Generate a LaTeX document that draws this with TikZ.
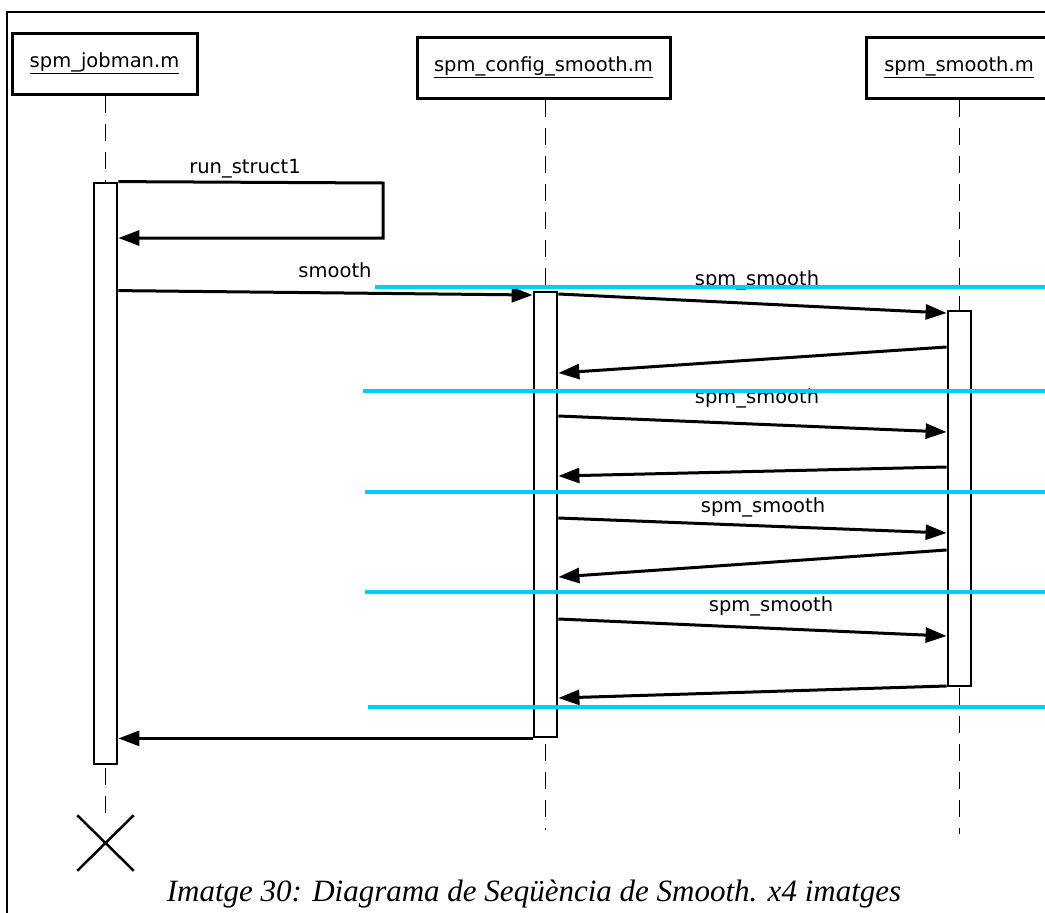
\documentclass[tikz,border=0pt]{standalone}
\usepackage{fontspec}
\setmainfont{DejaVu Sans}
\newfontfamily\captionserif{Liberation Serif}
\usetikzlibrary{arrows.meta, shapes.misc}
\definecolor{markcyan}{RGB}{0,204,255}

\begin{document}
\begin{tikzpicture}[x=1pt, y=-1pt,
    objbox/.style = {draw, line width=3pt, minimum height=61pt, inner sep=0pt,
      font=\fontsize{19.5}{22}\selectfont},
    actbar/.style = {draw, fill=white, line width=2.8pt, minimum width=23pt, inner sep=0pt},
    lifeline/.style = {line width=1.5pt, dash pattern=on 17pt off 11pt},
    msg/.style = {line width=3pt, -{Triangle[length=21pt, width=15pt]}},
    msgtext/.style = {anchor=base, inner sep=0pt, font=\fontsize{19.5}{22}\selectfont},
    marker/.style = {line width=4pt, markcyan}]
  \clip (0,0) rectangle (1045,913);
  % frame
  \draw[line width=1.3pt] (7,913) -- (7,12) -- (1045,12);

  % objects
  \node[objbox, minimum width=185pt] (jobman) at (104.5,63.5) {\underline{spm\_jobman.m}};
  \node[objbox, minimum width=253pt] (cfg) at (543.5,67.5) {\underline{spm\_config\_smooth.m}};
  \node[objbox, minimum width=186pt] (sm) at (959,67.5) {\underline{spm\_smooth.m}};

  % lifelines
  \node[cross out, draw, line width=2.5pt, minimum width=54pt, minimum height=53pt,
    inner sep=0pt] (jobkill) at (105.5,843) {};
  \coordinate (cfgend) at (545.5,830);
  \coordinate (smend) at (959.5,834);
  \draw[lifeline] (jobman.south -| jobkill.north) -- (jobkill.north);
  \draw[lifeline] (cfg.south -| cfgend) -- (cfgend);
  \draw[lifeline] (sm.south -| smend) -- (smend);

  % activations
  \node[actbar, minimum height=581pt] (jobbar) at (105.5,473.5) {};
  \node[actbar, minimum height=445pt] (cfgbar) at (545.5,514.5) {};
  \node[actbar, minimum height=375pt] (smbar) at (959.5,498.5) {};

  % messages
  \coordinate (loopne) at (383,183);
  \coordinate (loopse) at (383,238);
  \draw[msg] (jobbar.north east) -- (loopne) -- (loopse) -- (jobbar.east |- loopse);
  \node[msgtext] (runlbl) at (245,173) {run\_struct1};

  \draw[msg] (jobbar.east |- cfgbar.north) -- (cfgbar.west |- 0,295);
  \node[msgtext] (smoothlbl) at (335,277) {smooth};

  \foreach \i/\ya/\yb/\yc/\yd/\lx/\ly in {1/294/313/347/373/757/285,
      2/416/432/467/476/757/403, 3/518/533/550/577/763/512,
      4/619/636/686/698/771/611} {
    \draw[msg] (cfgbar.east |- 0,\ya) -- (smbar.west |- 0,\yb);
    \draw[msg] (smbar.west |- 0,\yc) -- (cfgbar.east |- 0,\yd);
    \node[msgtext] (calllbl\i) at (\lx,\ly) {spm\_smooth};
  }

  \draw[msg] (cfgbar.south west) -- (jobbar.east |- cfgbar.south);

  % cyan marks
  \foreach \y/\xs in {287/375, 391/363, 492/365, 592/365, 707/368}
    \draw[marker] (\xs,\y) -- (1045,\y);

  \node[anchor=base, inner sep=0pt, font=\captionserif\itshape\fontsize{31}{35}\selectfont]
    (caption) at (534,901) {Imatge 30: Diagrama de Seqüència de Smooth. x4 imatges};
\end{tikzpicture}
\end{document}
